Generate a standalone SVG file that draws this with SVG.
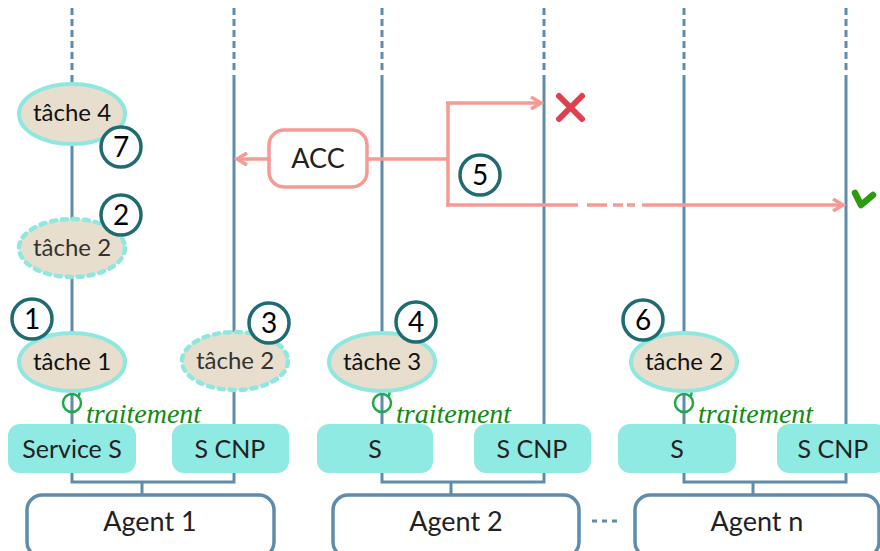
<svg xmlns="http://www.w3.org/2000/svg" width="880" height="551" viewBox="0 0 880 551">
<defs>
<style>
.life{stroke:#5f8cab;stroke-width:3;fill:none}
.lifed{stroke:#5f8cab;stroke-width:3;fill:none;stroke-dasharray:7 4}
.task{fill:#e7dece;stroke:#8ee8e0;stroke-width:4}
.taskd{fill:#e7dece;stroke:#8ee8e0;stroke-width:4.5;stroke-dasharray:5 6;stroke-linecap:round}
.svc{fill:#8eeae2;stroke:none}
.agent{fill:#fff;stroke:#5f8cab;stroke-width:3.5}
.num{fill:#fff;stroke:#1f6b72;stroke-width:3.5}
.t{font-family:"Lato","Open Sans",sans-serif;font-size:24px;fill:#111;text-anchor:middle}
.tg{font-family:"Lato","Open Sans",sans-serif;font-size:24px;fill:#333;text-anchor:middle}
.ta{font-family:"Lato","Open Sans",sans-serif;font-size:27px;fill:#222;text-anchor:middle}
.n{font-family:"Lato","Open Sans",sans-serif;font-size:28px;fill:#000;text-anchor:middle}
.tr{font-family:"Liberation Serif",serif;font-style:italic;font-size:28px;fill:#128a12}
.loop{fill:none;stroke:#22a84a;stroke-width:2.5}
.msg{fill:none;stroke:#f79a94;stroke-width:3.5}
</style>
<marker id="ah" markerWidth="14" markerHeight="14" refX="11" refY="7" orient="auto" markerUnits="userSpaceOnUse">
<path d="M1,1 L11,7 L1,13" fill="none" stroke="#f79a94" stroke-width="3.5"/>
</marker>
</defs>
<rect width="880" height="551" fill="#fff"/>
<g id="lifelines">
<line class="lifed" x1="72" y1="8" x2="72" y2="72"/>
<line class="lifed" x1="234" y1="8" x2="234" y2="72"/>
<line class="lifed" x1="382" y1="8" x2="382" y2="72"/>
<line class="lifed" x1="544" y1="8" x2="544" y2="72"/>
<line class="lifed" x1="684" y1="8" x2="684" y2="72"/>
<line class="lifed" x1="846" y1="8" x2="846" y2="72"/>
<path class="life" d="M72,75 V482 H234 V75 M142,482 V495"/>
<path class="life" d="M382,75 V482 H544 V75 M451,482 V495"/>
<path class="life" d="M684,75 V482 H846 V75 M753,482 V495"/>
<line x1="592" y1="521" x2="620" y2="521" stroke="#5f8cab" stroke-width="3" stroke-dasharray="5 5"/>
</g>
<g id="connectors">
<line class="msg" x1="269" y1="159" x2="237" y2="159" marker-end="url(#ah)"/>
<path class="msg" d="M367,159 H448"/>
<path class="msg" d="M448,103 V205"/>
<path class="msg" d="M446,103 H541" marker-end="url(#ah)"/>
<path class="msg" d="M446,205 H578 M587,205 H607 M613,205 H623 M627,205 H635"/>
<path class="msg" d="M642,205 H843" marker-end="url(#ah)"/>
<path d="M559,96 L582,119 M582,96 L559,119" stroke="#e0404e" stroke-width="6" stroke-linecap="round"/>
<path d="M855,193 L861,205 L873,195" stroke="#2e9a12" stroke-width="6.5" fill="none" stroke-linecap="round" stroke-linejoin="round"/>
</g>
<g id="agent1">
<rect class="agent" x="27" y="495" width="247" height="62" rx="15"/>
<text class="ta" x="150" y="531">Agent 1</text>
</g>
<g id="agent2">
<rect class="agent" x="333" y="495" width="246" height="62" rx="15"/>
<text class="ta" x="456" y="531">Agent 2</text>
</g>
<g id="agentn">
<rect class="agent" x="635" y="495" width="244" height="62" rx="15"/>
<text class="ta" x="757" y="531">Agent n</text>
</g>
<g id="svc1">
<rect class="svc" x="8" y="424" width="128" height="49" rx="12"/>
<text class="ta" x="72" y="458" style="font-size:25px">Service S</text>
</g>
<g id="cnp1">
<rect class="svc" x="172" y="424" width="117" height="49" rx="12"/>
<text class="ta" x="230" y="458" style="font-size:25px">S CNP</text>
</g>
<g id="svc2">
<rect class="svc" x="317" y="424" width="116" height="49" rx="12"/>
<text class="ta" x="375" y="458" style="font-size:25px">S</text>
</g>
<g id="cnp2">
<rect class="svc" x="474" y="424" width="117" height="49" rx="12"/>
<text class="ta" x="532" y="458" style="font-size:25px">S CNP</text>
</g>
<g id="svcn">
<rect class="svc" x="618" y="424" width="118" height="49" rx="12"/>
<text class="ta" x="677" y="458" style="font-size:25px">S</text>
</g>
<g id="cnpn">
<rect class="svc" x="777" y="424" width="110" height="49" rx="12"/>
<text class="ta" x="833" y="458" style="font-size:25px">S CNP</text>
</g>
<g id="traitements">
<circle class="loop" cx="72" cy="403" r="9"/>
<path class="loop" d="M74,391 L80,389 L79,396"/>
<text class="tr" x="86" y="423">traitement</text>
<circle class="loop" cx="382" cy="403" r="9"/>
<path class="loop" d="M384,391 L390,389 L389,396"/>
<text class="tr" x="396" y="423">traitement</text>
<circle class="loop" cx="684" cy="403" r="9"/>
<path class="loop" d="M686,391 L692,389 L691,396"/>
<text class="tr" x="698" y="423">traitement</text>
</g>
<g id="tache4">
<ellipse class="task" cx="72" cy="114" rx="53" ry="30"/>
<text class="t" x="72" y="121">tâche 4</text>
</g>
<g id="tache2a">
<ellipse class="taskd" cx="72" cy="248" rx="53" ry="29"/>
<text class="tg" x="72" y="256">tâche 2</text>
</g>
<g id="tache1">
<ellipse class="task" cx="72" cy="362" rx="53" ry="29"/>
<text class="t" x="72" y="370">tâche 1</text>
</g>
<g id="tache2b">
<ellipse class="taskd" cx="235" cy="361" rx="53" ry="29"/>
<text class="tg" x="235" y="369">tâche 2</text>
</g>
<g id="tache3">
<ellipse class="task" cx="382" cy="362" rx="53" ry="29"/>
<text class="t" x="382" y="370">tâche 3</text>
</g>
<g id="tache2c">
<ellipse class="task" cx="684" cy="362" rx="53" ry="29"/>
<text class="t" x="684" y="370">tâche 2</text>
</g>
<g id="acc">
<rect x="269" y="130" width="98" height="57" rx="15" fill="#fff" stroke="#f79a94" stroke-width="3.5"/>
<text class="ta" x="318" y="168">ACC</text>
</g>
<g id="n7"><circle class="num" cx="121" cy="147" r="20"/><text class="n" x="121" y="157">7</text></g>
<g id="n2"><circle class="num" cx="121" cy="215" r="20"/><text class="n" x="121" y="225">2</text></g>
<g id="n1"><circle class="num" cx="32" cy="319" r="20"/><text class="n" x="32" y="329">1</text></g>
<g id="n3"><circle class="num" cx="269" cy="323" r="20"/><text class="n" x="269" y="333">3</text></g>
<g id="n4"><circle class="num" cx="416" cy="322" r="20"/><text class="n" x="416" y="332">4</text></g>
<g id="n5"><circle class="num" cx="480" cy="175" r="20"/><text class="n" x="480" y="185">5</text></g>
<g id="n6"><circle class="num" cx="643" cy="320" r="20"/><text class="n" x="643" y="330">6</text></g>
</svg>
